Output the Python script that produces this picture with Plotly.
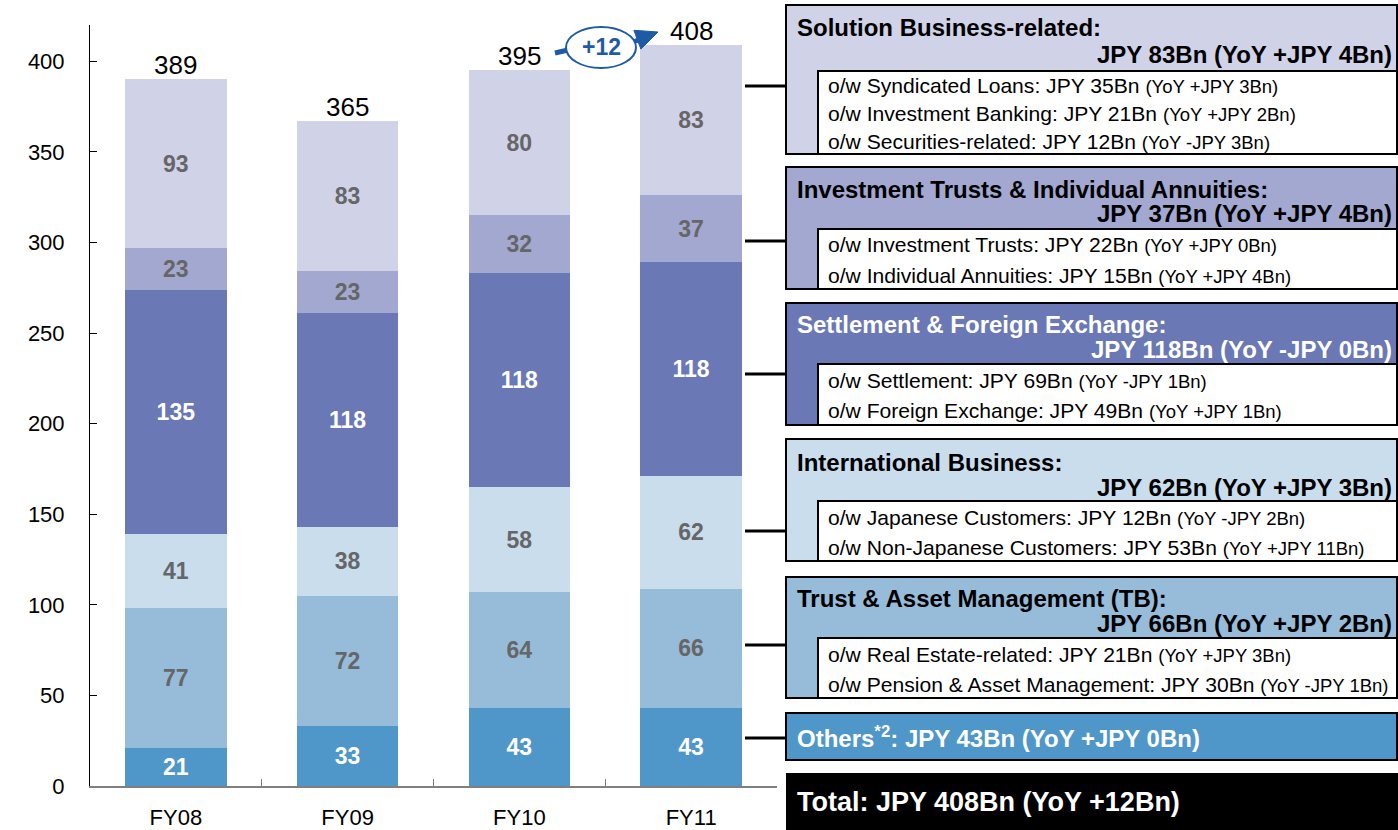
import plotly.graph_objects as go

# Fiscal years and segment values (JPY Bn), bottom of the stack first
years = ["FY08", "FY09", "FY10", "FY11"]
others = [21, 33, 43, 43]
trust_asset = [77, 72, 64, 66]
international = [41, 38, 58, 62]
settlement = [135, 118, 118, 118]
inv_trusts = [23, 23, 32, 37]
solution = [93, 83, 80, 83]
totals = [389, 365, 395, 408]
yoy_change = "+12"
y_ticks = [0, 50, 100, 150, 200, 250, 300, 350, 400]

FONT = "Liberation Sans, Arial, sans-serif"
W, H = 1398, 830
L, R, T, B = 90, 777, 25, 786   # plot area in pixels


def fx(px):
    return (px - L) / (R - L)


def fy(py):
    return (B - py) / (B - T)


segments = [
    ("Others", others, "#4f96c9", "white"),
    ("Trust & Asset Management", trust_asset, "#96bcd9", "#666666"),
    ("International Business", international, "#c9ddec", "#666666"),
    ("Settlement & Foreign Exchange", settlement, "#6a78b5", "white"),
    ("Investment Trusts & Individual Annuities", inv_trusts, "#a3a8d1", "#666666"),
    ("Solution Business-related", solution, "#d0d2e7", "#666666"),
]

fig = go.Figure()
for name, vals, color, tcolor in segments:
    fig.add_trace(go.Bar(
        x=years, y=vals, name=name,
        marker=dict(color=color, line=dict(width=0)),
        texttemplate="<b>%{y}</b>", textposition="inside",
        insidetextanchor="middle", textangle=0,
        textfont=dict(family=FONT, size=23, color=tcolor),
        hoverinfo="skip",
    ))

annotations = []
shapes = []

# Totals above each stack
stack_tops = [sum(v) for v in zip(others, trust_asset, international,
                                  settlement, inv_trusts, solution)]
for yr, top, tot in zip(years, stack_tops, totals):
    annotations.append(dict(x=yr, y=top, text=str(tot), showarrow=False,
                            xanchor="center", yanchor="bottom", yshift=-3,
                            font=dict(family=FONT, size=26, color="black")))

# YoY change bubble with arrow between FY10 and FY11
BLUE = "#1f5aa6"
shapes.append(dict(type="line", xref="paper", yref="paper",
                   x0=fx(555), y0=fy(53), x1=fx(568), y1=fy(50),
                   line=dict(color=BLUE, width=5)))
shapes.append(dict(type="line", xref="paper", yref="paper",
                   x0=fx(630), y0=fy(43), x1=fx(640), y1=fy(39.5),
                   line=dict(color=BLUE, width=5)))
head = [(658, 32), (640.9, 49.1), (633.9, 30.3)]
head_path = "M " + " L ".join(f"{fx(px):.5f},{fy(py):.5f}" for px, py in head) + " Z"
shapes.append(dict(type="path", xref="paper", yref="paper", path=head_path,
                   fillcolor=BLUE, line=dict(color=BLUE, width=1)))
shapes.append(dict(type="circle", xref="paper", yref="paper",
                   x0=fx(566), x1=fx(636), y0=fy(68), y1=fy(27),
                   line=dict(color=BLUE, width=2), fillcolor="white"))
annotations.append(dict(xref="paper", yref="paper", x=fx(601), y=fy(47),
                        xanchor="center", yanchor="middle",
                        text="<b>" + yoy_change + "</b>", showarrow=False,
                        font=dict(family=FONT, size=23, color=BLUE)))

# Breakdown panels on the right
BX0, BX1, IX0 = 786, 1397, 818
panels = [
    # top, inner top, bottom, fill, text colour, title, value, sub-lines,
    # connector y, title y, value y
    (5, 71, 154, "#d0d2e7", "black", "Solution Business-related:",
     "JPY 83Bn (YoY +JPY 4Bn)",
     [("o/w Syndicated Loans: JPY 35Bn", "(YoY +JPY 3Bn)"),
      ("o/w Investment Banking: JPY 21Bn", "(YoY +JPY 2Bn)"),
      ("o/w Securities-related: JPY 12Bn", "(YoY -JPY 3Bn)")], 86, 27, 54),
    (167, 229, 289, "#a3a8d1", "black",
     "Investment Trusts & Individual Annuities:",
     "JPY 37Bn (YoY +JPY 4Bn)",
     [("o/w Investment Trusts: JPY 22Bn", "(YoY +JPY 0Bn)"),
      ("o/w Individual Annuities: JPY 15Bn", "(YoY +JPY 4Bn)")], 241, 189, 213),
    (303, 364, 425, "#6a78b5", "white", "Settlement & Foreign Exchange:",
     "JPY 118Bn (YoY -JPY 0Bn)",
     [("o/w Settlement: JPY 69Bn", "(YoY -JPY 1Bn)"),
      ("o/w Foreign Exchange: JPY 49Bn", "(YoY +JPY 1Bn)")], 374, 324, 349),
    (439, 501, 561, "#c9ddec", "black", "International Business:",
     "JPY 62Bn (YoY +JPY 3Bn)",
     [("o/w Japanese Customers: JPY 12Bn", "(YoY -JPY 2Bn)"),
      ("o/w Non-Japanese Customers: JPY 53Bn", "(YoY +JPY 11Bn)")], 531, 462, 487),
    (577, 638, 698, "#96bcd9", "black", "Trust & Asset Management (TB):",
     "JPY 66Bn (YoY +JPY 2Bn)",
     [("o/w Real Estate-related: JPY 21Bn", "(YoY +JPY 3Bn)"),
      ("o/w Pension & Asset Management: JPY 30Bn", "(YoY -JPY 1Bn)")], 645, 598, 623),
]

for top, itop, bot, fill, tcol, title, value, subs, link_y, ty, vy in panels:
    shapes.append(dict(type="rect", xref="paper", yref="paper",
                       x0=fx(BX0), x1=fx(BX1), y0=fy(bot), y1=fy(top),
                       fillcolor=fill, line=dict(color="black", width=2)))
    shapes.append(dict(type="rect", xref="paper", yref="paper",
                       x0=fx(IX0), x1=fx(BX1), y0=fy(bot), y1=fy(itop),
                       fillcolor="white", line=dict(color="black", width=2)))
    shapes.append(dict(type="line", xref="paper", yref="paper",
                       x0=fx(745), x1=fx(BX0), y0=fy(link_y), y1=fy(link_y),
                       line=dict(color="black", width=3)))
    annotations.append(dict(xref="paper", yref="paper", x=fx(795), y=fy(ty),
                            xanchor="left", yanchor="middle", showarrow=False,
                            text="<b>" + title + "</b>",
                            font=dict(family=FONT, size=24, color=tcol)))
    annotations.append(dict(xref="paper", yref="paper", x=fx(1394), y=fy(vy),
                            xanchor="right", yanchor="middle", showarrow=False,
                            text="<b>" + value + "</b>",
                            font=dict(family=FONT, size=24, color=tcol)))
    n = len(subs)
    for i, (main, yoy) in enumerate(subs):
        sy = itop + (bot - itop) * (i + 0.5) / n + 1
        annotations.append(dict(
            xref="paper", yref="paper", x=fx(826), y=fy(sy),
            xanchor="left", yanchor="middle", showarrow=False,
            text=main + " <span style='font-size:18.5px'>" + yoy + "</span>",
            font=dict(family=FONT, size=21.1, color="black")))

# Others panel
shapes.append(dict(type="rect", xref="paper", yref="paper",
                   x0=fx(BX0), x1=fx(BX1), y0=fy(760), y1=fy(713),
                   fillcolor="#4f96c9", line=dict(color="black", width=2)))
shapes.append(dict(type="line", xref="paper", yref="paper",
                   x0=fx(745), x1=fx(BX0), y0=fy(738), y1=fy(738),
                   line=dict(color="black", width=3)))
annotations.append(dict(xref="paper", yref="paper", x=fx(795), y=fy(737),
                        xanchor="left", yanchor="middle", showarrow=False,
                        text="<b>Others<sup>*2</sup>: JPY 43Bn (YoY +JPY 0Bn)</b>",
                        font=dict(family=FONT, size=24, color="white")))

# Total panel
shapes.append(dict(type="rect", xref="paper", yref="paper",
                   x0=fx(BX0), x1=fx(W), y0=fy(H), y1=fy(773),
                   fillcolor="black", line=dict(width=0)))
annotations.append(dict(xref="paper", yref="paper", x=fx(795), y=fy(802),
                        xanchor="left", yanchor="middle", showarrow=False,
                        text="<b>Total: JPY 408Bn (YoY +12Bn)</b>",
                        font=dict(family=FONT, size=27, color="white")))

fig.update_layout(
    width=W, height=H,
    margin=dict(l=L, r=W - R, t=T, b=H - B, pad=0),
    barmode="stack", bargap=0.41, showlegend=False,
    plot_bgcolor="white", paper_bgcolor="white",
    font=dict(family=FONT, size=22, color="black"),
    shapes=shapes, annotations=annotations,
    xaxis=dict(type="category", tickson="boundaries", ticks="inside",
               ticklen=7, tickcolor="#7f7f7f", tickwidth=1,
               showline=True, linecolor="#7f7f7f", linewidth=2,
               showgrid=False, zeroline=False, automargin=False,
               tickfont=dict(family=FONT, size=22, color="black"),
               ticklabelstandoff=11),
    yaxis=dict(range=[0, 420], tickvals=y_ticks, ticks="inside",
               ticklen=7, tickcolor="black", showline=True,
               linecolor="black", linewidth=1, showgrid=False,
               zeroline=False, ticklabelstandoff=20, automargin=False,
               tickfont=dict(family=FONT, size=22, color="black")),
)

fig.write_html("out.html")
